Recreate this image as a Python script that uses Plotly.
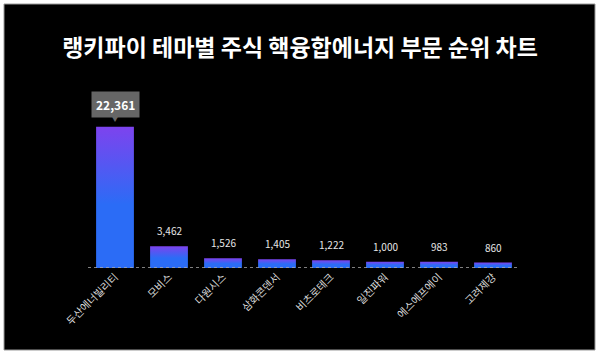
import plotly.graph_objects as go

categories = ["두산에너빌리티", "모비스", "다원시스", "삼화콘덴서", "비츠로테크", "일진파워", "에스에프에이", "고려제강"]
values = [22361, 3462, 1526, 1405, 1222, 1000, 983, 860]
title_text = "랭키파이 테마별 주식 핵융합에너지 부문 순위 차트"

FONT = "Noto Sans CJK KR"
BLUE = "#2b6cf6"
PURPLE = "#7d43ee"
HALF = 0.35

fig = go.Figure()
for i, v in enumerate(values):
    fig.add_trace(go.Scatter(
        x=[i - HALF, i + HALF, i + HALF, i - HALF, i - HALF],
        y=[0, 0, v, v, 0],
        mode="lines",
        line=dict(width=0),
        fill="toself",
        fillgradient=dict(type="vertical", start=0, stop=v,
                          colorscale=[[0, BLUE], [0.45, BLUE], [1, PURPLE]]),
        hoverinfo="skip",
        showlegend=False,
    ))

annotations = []
for i, v in enumerate(values):
    if i == 0:
        annotations.append(dict(
            x=i, y=v, xref="x", yref="y", text=f"<b>{v:,}</b>", showarrow=False,
            yanchor="bottom", yshift=9, bgcolor="#666666", borderpad=4,
            font=dict(family=FONT, size=12, color="#ffffff"),
        ))
        annotations.append(dict(
            x=i, y=v, xref="x", yref="y", text="▼", showarrow=False,
            yanchor="bottom", yshift=2, font=dict(family=FONT, size=6, color="#666666"),
        ))
    else:
        annotations.append(dict(
            x=i, y=v, xref="x", yref="y", text=f"{v:,}", showarrow=False,
            yanchor="bottom", yshift=6,
            font=dict(family=FONT, size=10, color="#e6e6e6"),
        ))

shapes = [
    dict(type="rect", xref="paper", yref="paper",
         x0=(4 - 88) / 432, x1=(595 - 88) / 432, y0=(268 - 350) / 168, y1=(268 - 4) / 168,
         fillcolor="#000000", line=dict(color="#9a9a9a", width=1), layer="below"),
    dict(type="line", xref="x", yref="y", x0=-0.5, x1=len(values) - 0.5, y0=0, y1=0,
         line=dict(color="#aaaaaa", width=1.5, dash="dot"), layer="above"),
]

fig.update_layout(
    width=600, height=356,
    margin=dict(l=88, r=80, t=100, b=88),
    paper_bgcolor="#ffffff",
    plot_bgcolor="rgba(0,0,0,0)",
    title=dict(text=f"<b>{title_text}</b>", x=0.5, xanchor="center", xref="container",
               y=1 - 48 / 356, yanchor="middle",
               font=dict(family=FONT, size=23, color="#ffffff")),
    xaxis=dict(range=[-0.5, len(values) - 0.5], tickmode="array",
               tickvals=list(range(len(values))), ticktext=categories,
               tickangle=-45, showgrid=False, zeroline=False, showline=False,
               ticks="", tickfont=dict(family=FONT, size=10.5, color="#d9d9d9")),
    yaxis=dict(range=[0, 26600], showgrid=False, zeroline=False, showline=False,
               showticklabels=False, ticks=""),
    annotations=annotations,
    shapes=shapes,
)

fig.write_html("out.html", config={"displayModeBar": False},
               post_script="document.body.style.margin='0px';")
